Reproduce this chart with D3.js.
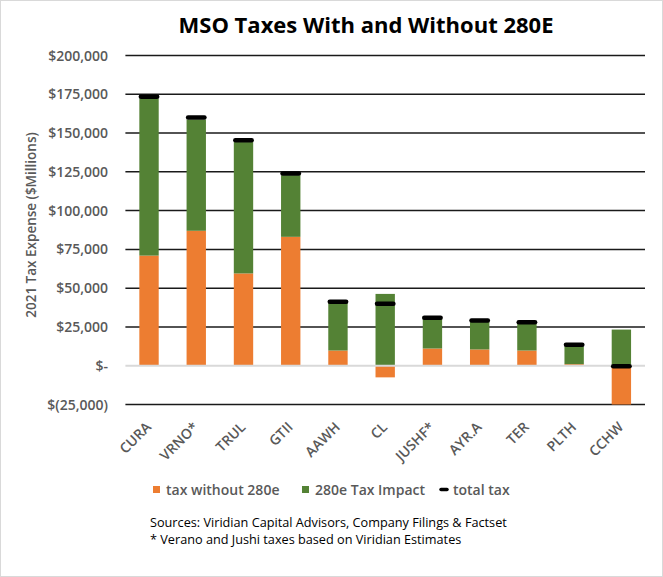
<!DOCTYPE html>
<html>
<head>
<meta charset="utf-8">
<script src="https://cdn.jsdelivr.net/npm/d3@7"></script>
<style>
  html, body { margin: 0; padding: 0; background: #fff; }
  svg { display: block; font-family: "Open Sans", "Noto Sans", sans-serif; }
</style>
</head>
<body>
<svg id="chart" width="663" height="577"></svg>
<script>
// ---- data (values in $ thousands as shown on axis) ----
const categories = ["CURA", "VRNO*", "TRUL", "GTII", "AAWH", "CL", "JUSHF*", "AYR.A", "TER", "PLTH", "CCHW"];
const taxWithout280e = [71000, 87000, 59500, 83100, 9800, -7500, 11100, 10500, 9800, 1000, -25000];
const tax280eImpact  = [101200, 71700, 84700, 39700, 31100, 46300, 19500, 18000, 17200, 11600, 23300];
const totalTax       = [173400, 160100, 145300, 124000, 41300, 40000, 31000, 29100, 28000, 13500, -300];
const yTicks = [-25000, 0, 25000, 50000, 75000, 100000, 125000, 150000, 175000, 200000];
const seriesNames = ["tax without 280e", "280e Tax Impact", "total tax"];

const colors = { orange: "#ED7D31", green: "#548235", total: "#000000" };

const svg = d3.select("#chart");
const W = 663, H = 577;

// chart border
svg.append("rect").attr("x", 0.5).attr("y", 0.5).attr("width", W - 1).attr("height", H - 1)
  .attr("fill", "#fff").attr("stroke", "#d9d9d9").attr("stroke-width", 1);

const plot = { left: 125.4, right: 645, top: 55.5, bottom: 404.5 };

const x = d3.scaleBand().domain(categories).range([plot.left, plot.right])
  .paddingInner(0.59).paddingOuter(0.295);
const y = d3.scaleLinear().domain([-25000, 200000]).range([plot.bottom, plot.top]);

// gridlines
svg.append("g").selectAll("line").data(yTicks.filter(d => d !== 0)).join("line")
  .attr("x1", plot.left).attr("x2", plot.right)
  .attr("y1", d => y(d)).attr("y2", d => y(d))
  .attr("stroke", "#1a1a1a").attr("stroke-width", 1.5);

// y tick labels
const fmt = d => {
  if (d === 0) return "$-";
  const s = d3.format(",")(Math.abs(d));
  return d < 0 ? "$(" + s + ")" : "$" + s;
};
svg.append("g").selectAll("text").data(yTicks).join("text")
  .attr("x", 108).attr("y", d => y(d)).attr("dy", "0.36em")
  .attr("text-anchor", "end").attr("font-size", 14).attr("font-weight", 600)
  .attr("fill", "#595959").text(fmt);

// y axis title
svg.append("text")
  .attr("transform", "translate(31,225) rotate(-90)")
  .attr("text-anchor", "middle").attr("dy", "0.35em")
  .attr("font-size", 13.5).attr("font-weight", 600).attr("fill", "#595959")
  .text("2021 Tax Expense ($Millions)");

// stacked bars (positives stack upward from 0, negatives downward)
const bars = svg.append("g");
categories.forEach((c, i) => {
  const o = taxWithout280e[i], g = tax280eImpact[i];
  const segs = [];
  let pos = 0, neg = 0;
  [[o, colors.orange], [g, colors.green]].forEach(([v, col]) => {
    if (v >= 0) { segs.push({ y0: pos, y1: pos + v, col }); pos += v; }
    else { segs.push({ y0: neg + v, y1: neg, col }); neg += v; }
  });
  segs.forEach(s => {
    bars.append("rect")
      .attr("x", x(c)).attr("width", x.bandwidth())
      .attr("y", y(s.y1)).attr("height", Math.max(0, y(s.y0) - y(s.y1)))
      .attr("fill", s.col);
  });
});

// zero line
svg.append("line").attr("x1", plot.left).attr("x2", plot.right)
  .attr("y1", y(0)).attr("y2", y(0)).attr("stroke", "#d9d9d9").attr("stroke-width", 2);

// total tax markers
svg.append("g").selectAll("line").data(categories).join("line")
  .attr("x1", c => x(c) + 1.5).attr("x2", c => x(c) + x.bandwidth() - 1.5)
  .attr("y1", (c, i) => y(totalTax[i])).attr("y2", (c, i) => y(totalTax[i]))
  .attr("stroke", colors.total).attr("stroke-width", 4.5).attr("stroke-linecap", "round");

// x labels
svg.append("g").selectAll("text").data(categories).join("text")
  .attr("transform", c => `translate(${x(c) + x.bandwidth() / 2 + 3},${428}) rotate(-45)`)
  .attr("text-anchor", "end")
  .attr("font-size", 14).attr("font-weight", 600).attr("fill", "#595959")
  .text(c => c);

// title
svg.append("text").attr("x", 366).attr("y", 33).attr("text-anchor", "middle")
  .attr("font-size", 22).attr("font-weight", 700).attr("fill", "#000")
  .text("MSO Taxes With and Without 280E");

// legend
const leg = svg.append("g");
const legItems = [
  { name: seriesNames[0], type: "rect", col: colors.orange, x: 153 },
  { name: seriesNames[1], type: "rect", col: colors.green, x: 302 },
  { name: seriesNames[2], type: "line", col: colors.total, x: 440 }
];
legItems.forEach(it => {
  if (it.type === "rect") {
    leg.append("rect").attr("x", it.x).attr("y", 486).attr("width", 7).attr("height", 7).attr("fill", it.col);
  } else {
    leg.append("line").attr("x1", it.x + 1).attr("x2", it.x + 7).attr("y1", 489.5).attr("y2", 489.5)
      .attr("stroke", it.col).attr("stroke-width", 3.5).attr("stroke-linecap", "round");
  }
  leg.append("text").attr("x", it.x + 13).attr("y", 490).attr("dy", "0.35em")
    .attr("font-size", 14).attr("font-weight", 600).attr("fill", "#595959").text(it.name);
});

// sources
svg.append("text").attr("x", 150).attr("y", 527).attr("font-size", 12.7).attr("fill", "#000")
  .text("Sources: Viridian Capital Advisors, Company Filings & Factset");
svg.append("text").attr("x", 150).attr("y", 544).attr("font-size", 12.7).attr("fill", "#000")
  .text("* Verano and Jushi taxes based on Viridian Estimates");
</script>
</body>
</html>
